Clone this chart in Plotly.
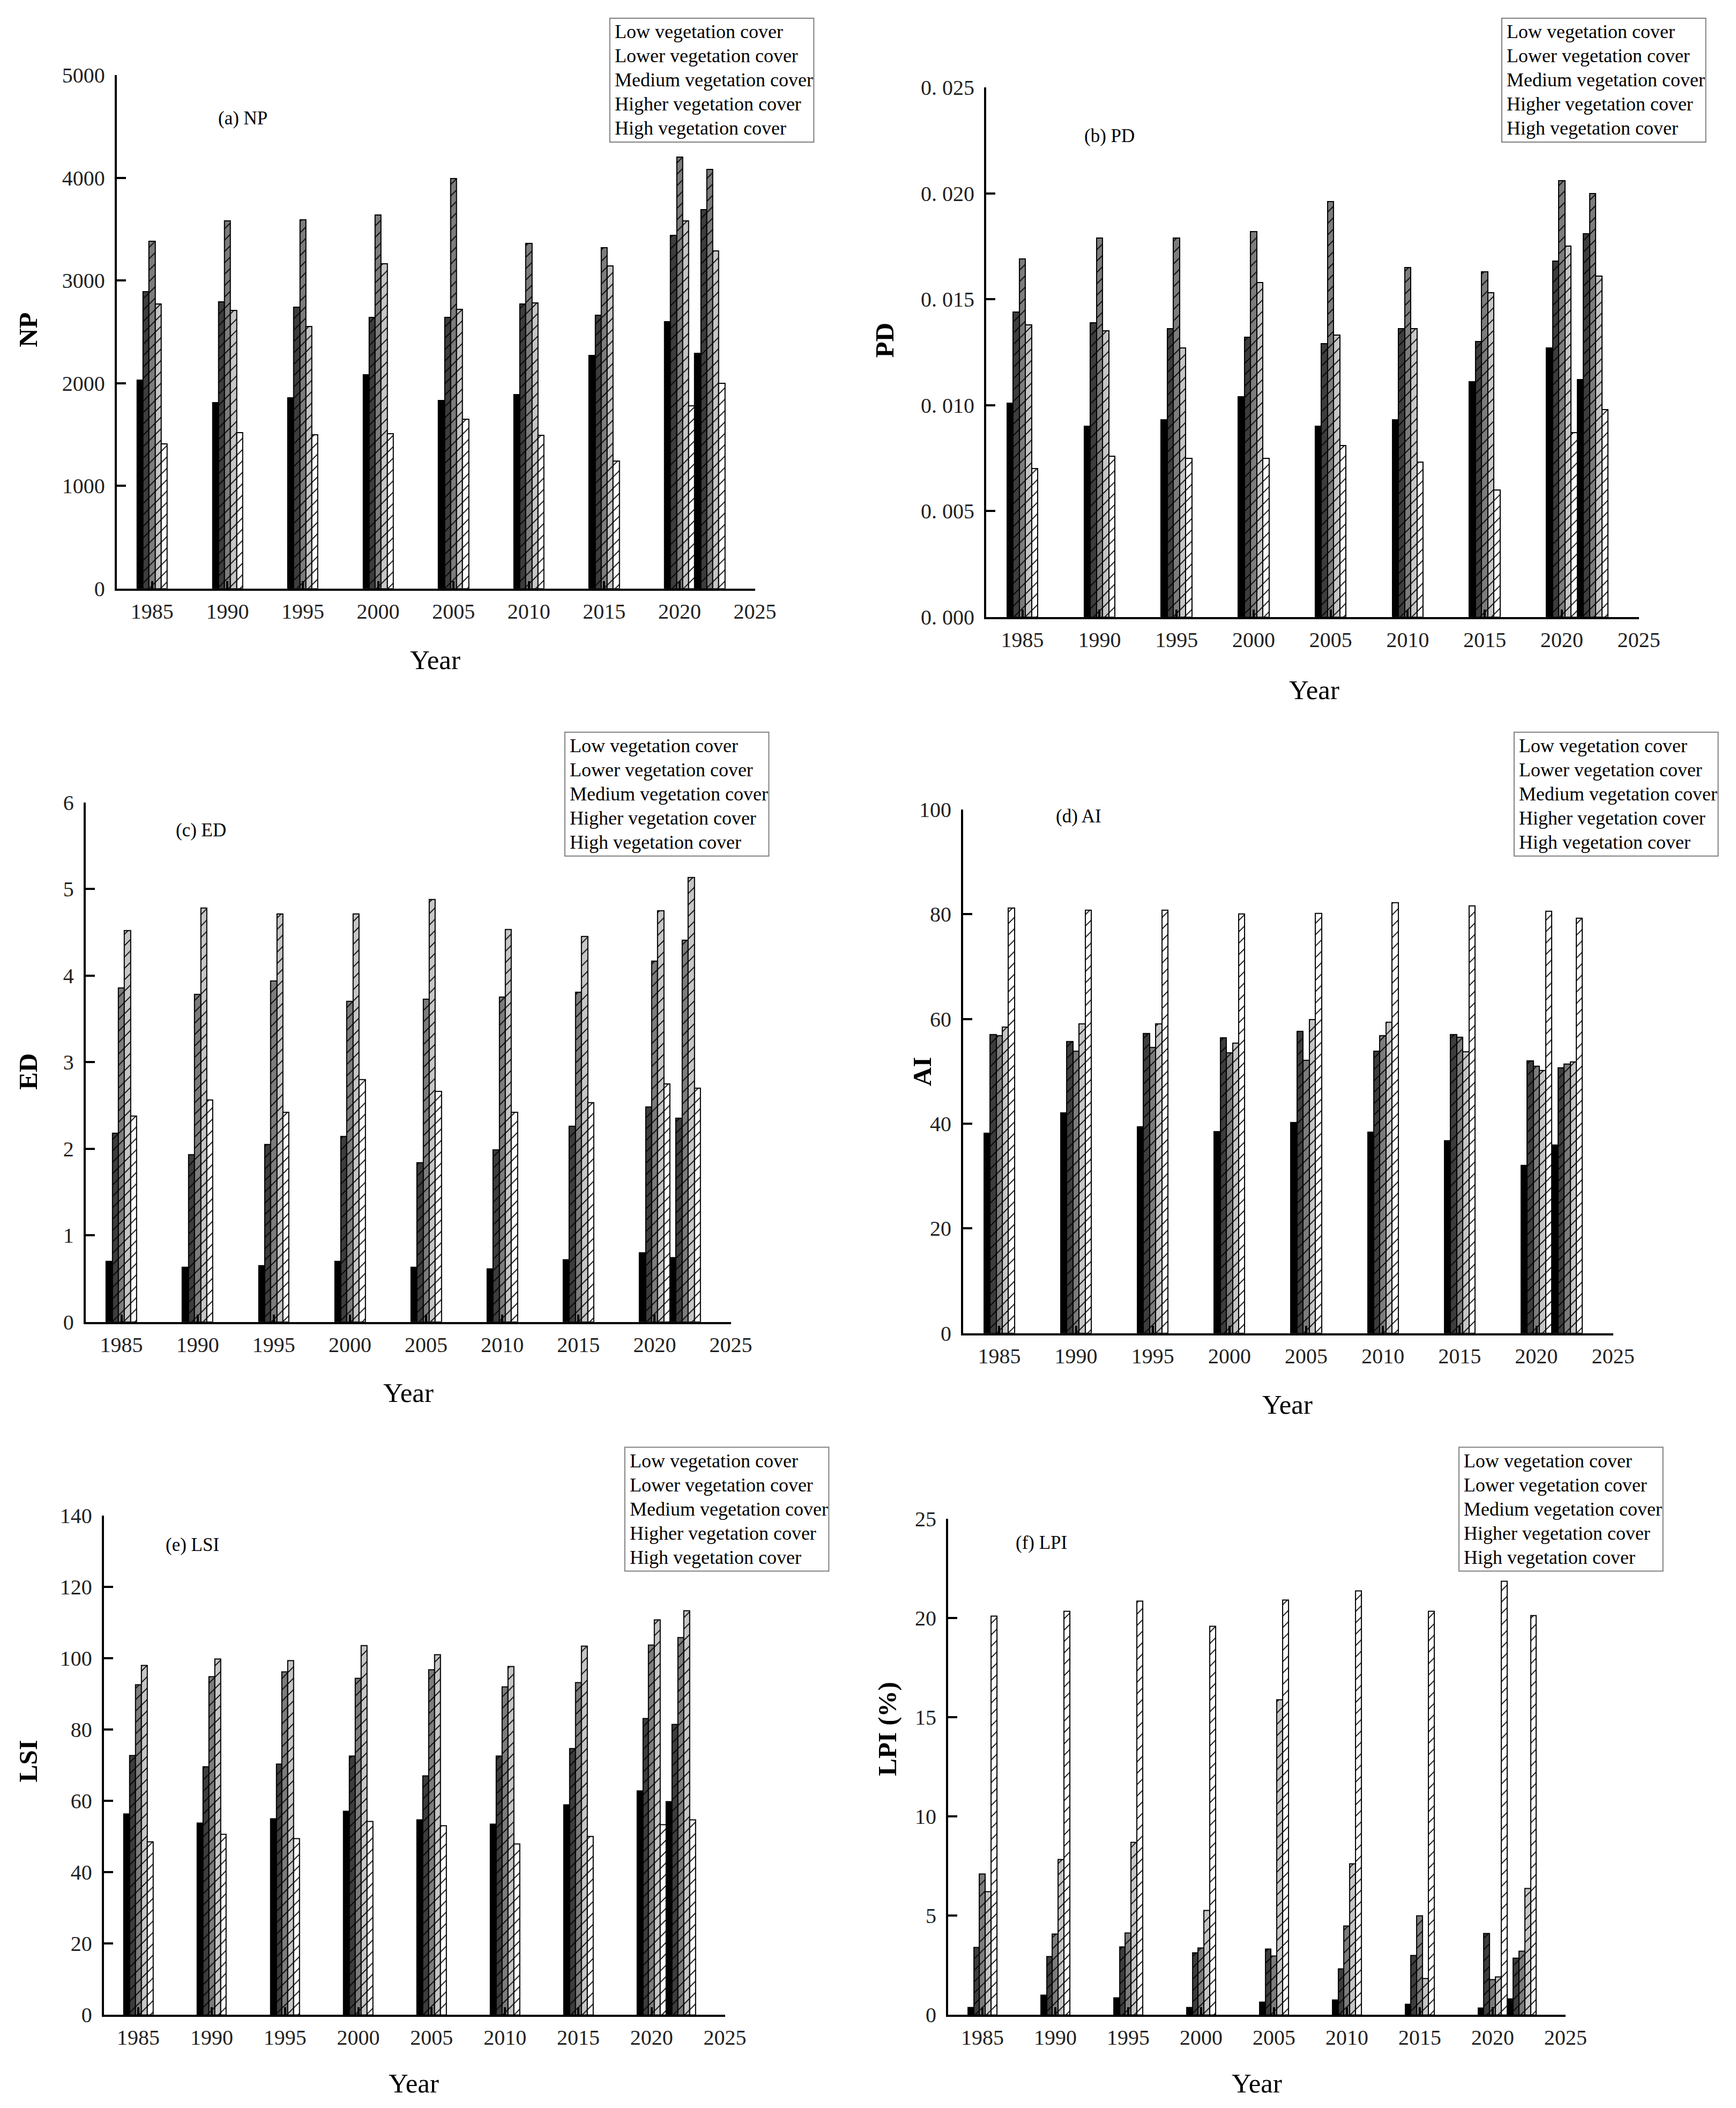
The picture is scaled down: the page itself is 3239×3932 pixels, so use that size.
import plotly.graph_objects as go

# --- data ---
years = [1985, 1990, 1995, 2000, 2005, 2010, 2015, 2020, 2022]
cover_names = ["Low vegetation cover", "Lower vegetation cover", "Medium vegetation cover",
               "Higher vegetation cover", "High vegetation cover"]
year_ticks = [1985, 1990, 1995, 2000, 2005, 2010, 2015, 2020, 2025]

np_low = [2030, 1810, 1860, 2080, 1830, 1890, 2270, 2600, 2290]
np_lower = [2890, 2790, 2740, 2640, 2640, 2770, 2660, 3440, 3690]
np_medium = [3380, 3580, 3590, 3640, 3990, 3360, 3320, 4200, 4080]
np_higher = [2770, 2710, 2550, 3160, 2720, 2780, 3140, 3580, 3290]
np_high = [1410, 1520, 1500, 1510, 1650, 1490, 1240, 1780, 2000]

pd_low = [0.0101, 0.0090, 0.0093, 0.0104, 0.0090, 0.0093, 0.0111, 0.0127, 0.0112]
pd_lower = [0.0144, 0.0139, 0.0136, 0.0132, 0.0129, 0.0136, 0.0130, 0.0168, 0.0181]
pd_medium = [0.0169, 0.0179, 0.0179, 0.0182, 0.0196, 0.0165, 0.0163, 0.0206, 0.0200]
pd_higher = [0.0138, 0.0135, 0.0127, 0.0158, 0.0133, 0.0136, 0.0153, 0.0175, 0.0161]
pd_high = [0.0070, 0.0076, 0.0075, 0.0075, 0.0081, 0.0073, 0.0060, 0.0087, 0.0098]

ed_low = [0.70, 0.63, 0.65, 0.70, 0.63, 0.61, 0.72, 0.80, 0.74]
ed_lower = [2.18, 1.93, 2.05, 2.14, 1.84, 1.99, 2.26, 2.48, 2.35]
ed_medium = [3.86, 3.78, 3.94, 3.70, 3.73, 3.75, 3.81, 4.17, 4.41]
ed_higher = [4.52, 4.78, 4.71, 4.71, 4.88, 4.53, 4.45, 4.75, 5.13]
ed_high = [2.38, 2.56, 2.42, 2.80, 2.66, 2.42, 2.53, 2.75, 2.70]

ai_low = [38.2, 42.1, 39.4, 38.5, 40.2, 38.4, 36.7, 32.0, 35.9]
ai_lower = [57.0, 55.7, 57.2, 56.4, 57.6, 53.8, 57.0, 52.0, 50.7]
ai_medium = [56.8, 53.8, 54.5, 53.5, 52.1, 56.8, 56.5, 51.0, 51.4]
ai_higher = [58.4, 59.1, 59.1, 55.4, 59.9, 59.4, 53.7, 50.1, 51.8]
ai_high = [81.2, 80.8, 80.8, 80.0, 80.1, 82.2, 81.6, 80.6, 79.2]

lsi_low = [56.3, 53.7, 54.9, 57.0, 54.7, 53.5, 58.8, 62.8, 59.8]
lsi_lower = [72.7, 69.6, 70.3, 72.6, 67.0, 72.6, 74.6, 83.1, 81.4]
lsi_medium = [92.5, 94.8, 96.2, 94.4, 96.7, 92.0, 93.2, 103.6, 105.7]
lsi_higher = [98.0, 99.8, 99.3, 103.5, 101.0, 97.6, 103.4, 110.7, 113.3]
lsi_high = [48.5, 50.6, 49.4, 54.2, 53.0, 47.9, 50.0, 53.3, 54.6]

lpi_low = [0.38, 1.0, 0.86, 0.38, 0.64, 0.75, 0.55, 0.36, 0.82]
lpi_lower = [3.4, 2.93, 3.42, 3.13, 3.33, 2.32, 3.0, 4.1, 2.85]
lpi_medium = [7.1, 4.08, 4.12, 3.38, 2.98, 4.48, 5.0, 1.79, 3.22]
lpi_higher = [6.2, 7.82, 8.68, 5.27, 15.87, 7.6, 1.84, 1.92, 6.37]
lpi_high = [20.08, 20.34, 20.85, 19.57, 20.9, 21.36, 20.34, 21.85, 20.12]

np_ticks = [0, 1000, 2000, 3000, 4000, 5000]
pd_ticks = [0, 0.005, 0.010, 0.015, 0.020, 0.025]
pd_ticktext = ["0. 000", "0. 005", "0. 010", "0. 015", "0. 020", "0. 025"]
ed_ticks = [0, 1, 2, 3, 4, 5, 6]
ai_ticks = [0, 20, 40, 60, 80, 100]
lsi_ticks = [0, 20, 40, 60, 80, 100, 120, 140]
lpi_ticks = [0, 5, 10, 15, 20, 25]

# --- styling ---
W, H = 3239, 3932
FONT = "Liberation Serif, Times New Roman, serif"
FILL = ["#000000", "#3d3d3d", "#7c7c7c", "#c6c6c6", "#ffffff"]
HATCH = ["", "/", "/", "/", "/"]
LEG_W, LEG_H, LEG_STEP = 381, 231, 45

# the photographed page came out ~1.1% smaller and shifted down, so positions
# (measured on the reference) are pre-corrected here
S, OX, OY = 0.9887, -3, 21


def fx(v):
    return (v - OX) / S / W


def fy(v):
    return 1 - (v - OY) / S / H


def fs(size):
    return round(size / S)


# panel: (series, ytitle, label, ticks, ticktext, px box [x0, x1, ytop, ybottom],
#         legend top-left, label centre, ytitle centre, xtitle centre)
panels = [
    ([np_low, np_lower, np_medium, np_higher, np_high], "NP", "(a) NP", np_ticks, None,
     (215, 1407, 139, 1097), (1136, 33), (450, 220), (50, 614), (810, 1230)),
    ([pd_low, pd_lower, pd_medium, pd_higher, pd_high], "PD", "(b) PD", pd_ticks, pd_ticktext,
     (1839, 3058, 162, 1150), (2802, 33), (2069, 253), (1650, 634), (2452, 1286)),
    ([ed_low, ed_lower, ed_medium, ed_higher, ed_high], "ED", "(c) ED", ed_ticks, None,
     (157, 1362, 1496, 2465), (1052, 1365), (372, 1548), (50, 1998), (760, 2597)),
    ([ai_low, ai_lower, ai_medium, ai_higher, ai_high], "AI", "(d) AI", ai_ticks, None,
     (1796, 3010, 1509, 2486), (2825, 1365), (2012, 1522), (1720, 1998), (2402, 2619)),
    ([lsi_low, lsi_lower, lsi_medium, lsi_higher, lsi_high], "LSI", "(e) LSI", lsi_ticks, None,
     (191, 1351, 2826, 3758), (1164, 2699), (356, 2881), (50, 3284), (770, 3886)),
    ([lpi_low, lpi_lower, lpi_medium, lpi_higher, lpi_high], "LPI (%)", "(f) LPI", lpi_ticks, None,
     (1768, 2921, 2832, 3758), (2722, 2699), (1942, 2877), (1654, 3224), (2344, 3886)),
]

fig = go.Figure()
annotations = []
shapes = []
layout = {}

for k, (series, ytitle, label, ticks, ticktext, box, leg, lab, yt, xt) in enumerate(panels):
    n = "" if k == 0 else str(k + 1)
    for i, vals in enumerate(series):
        fig.add_trace(go.Bar(
            x=years, y=vals, name=cover_names[i], showlegend=False,
            xaxis="x" + n, yaxis="y" + n,
            marker=dict(color=FILL[i], line=dict(color="black", width=2),
                        pattern=dict(shape=HATCH[i], fgcolor="black", bgcolor=FILL[i],
                                     size=15, solidity=0.12, fillmode="replace")),
        ))
    x0, x1, yt0, yb0 = box
    layout["xaxis" + n] = dict(
        domain=[fx(x0), fx(x1)], anchor="y" + n, range=[1982.65, 2025],
        tickvals=year_ticks, ticks="inside", ticklen=14, tickwidth=4, tickcolor="black",
        showline=True, linecolor="black", linewidth=4, showgrid=False, zeroline=False,
        tickfont=dict(family=FONT, size=fs(40), color="#222"), ticklabelstandoff=4,
    )
    layout["yaxis" + n] = dict(
        domain=[fy(yb0), fy(yt0)], anchor="x" + n, range=[0, ticks[-1]],
        tickvals=ticks, ticktext=ticktext if ticktext else [str(t) for t in ticks],
        ticks="inside", ticklen=17, tickwidth=4, tickcolor="black",
        showline=True, linecolor="black", linewidth=4, showgrid=False, zeroline=False,
        tickfont=dict(family=FONT, size=fs(40), color="#222"), ticklabelstandoff=10,
    )
    # legend drawn as a bordered box of plain text lines
    shapes.append(dict(
        type="rect", xref="paper", yref="paper",
        x0=fx(leg[0]), x1=fx(leg[0] + LEG_W), y0=fy(leg[1] + LEG_H), y1=fy(leg[1]),
        line=dict(color="#808080", width=2), fillcolor="white", layer="above",
    ))
    for i, name in enumerate(cover_names):
        annotations.append(dict(
            xref="paper", yref="paper", x=fx(leg[0] + 7), y=fy(leg[1] + 25 + LEG_STEP * i),
            xanchor="left", yanchor="middle", text=name, showarrow=False,
            font=dict(family=FONT, size=fs(36), color="black"),
        ))
    annotations.append(dict(
        xref="paper", yref="paper", x=fx(lab[0]), y=fy(lab[1]), xanchor="center", yanchor="middle",
        text=label, showarrow=False, font=dict(family=FONT, size=fs(35), color="black"),
    ))
    annotations.append(dict(
        xref="paper", yref="paper", x=fx(yt[0]), y=fy(yt[1]), xanchor="center", yanchor="middle",
        text="<b>" + ytitle + "</b>", textangle=-90, showarrow=False,
        font=dict(family=FONT, size=fs(48), color="black"),
    ))
    annotations.append(dict(
        xref="paper", yref="paper", x=fx(xt[0]), y=fy(xt[1]), xanchor="center", yanchor="middle",
        text="Year", showarrow=False, font=dict(family=FONT, size=fs(50), color="black"),
    ))

fig.update_layout(
    width=W, height=H, margin=dict(l=0, r=0, t=0, b=0),
    paper_bgcolor="white", plot_bgcolor="white",
    barmode="group", bargap=0, bargroupgap=0,
    annotations=annotations, shapes=shapes, **layout,
)

fig.write_html("out.html", config={"displayModeBar": False},
               post_script="document.body.style.margin='0px';")
